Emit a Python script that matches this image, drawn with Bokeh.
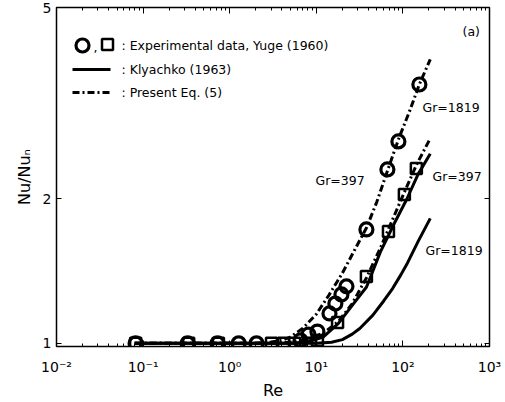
import math
from bokeh.plotting import figure
from bokeh.models import FixedTicker, LogAxis, Label, Range1d
from bokeh.embed import file_html
from bokeh.resources import INLINE

# ---------------- data ----------------
x_ticks = [0.01, 0.1, 1, 10, 100, 1000]
x_tick_labels = ["10⁻²", "10⁻¹", "10⁰", "10¹", "10²", "10³"]
y_ticks = [1, 2, 5]
y_tick_labels = ["1", "2", "5"]

# Experimental data, Yuge (1960)
circ_re = [0.082, 0.327, 0.724, 1.27, 2.04, 6.57, 8.13, 10.3, 14.2, 16.6, 19.5, 22.3, 37.9, 66.2, 88.7, 155]
circ_nu = [1.0, 1.0, 1.0, 1.0, 1.0, 1.014, 1.043, 1.058, 1.154, 1.21, 1.264, 1.314, 1.726, 2.301, 2.632, 3.457]
sq_re = [0.082, 0.336, 0.741, 3.04, 4.19, 5.61, 8.57, 10.3, 17.6, 37.9, 68.1, 104, 143]
sq_nu = [1.0, 1.0, 1.0, 1.0, 1.0, 1.0, 1.0, 1.014, 1.105, 1.377, 1.709, 2.041, 2.312]

# Present Eq. (5)
eq5_1819_re = [0.08, 1, 2, 3, 4, 5, 7, 10, 14, 20, 28, 38, 50, 66, 89, 120, 155, 207]
eq5_1819_nu = [1.0, 1.0, 1.001, 1.006, 1.015, 1.03, 1.075, 1.15, 1.26, 1.40, 1.57, 1.74, 1.97, 2.28, 2.66, 3.05, 3.46, 3.90]
eq5_397_re = [0.08, 1, 3, 5, 8, 12, 18, 26, 38, 55, 70, 100, 143, 207]
eq5_397_nu = [1.0, 1.0, 1.0, 1.005, 1.02, 1.05, 1.11, 1.21, 1.37, 1.58, 1.75, 2.03, 2.35, 2.67]

# Klyachko (1963)
kl_397_re = [0.08, 1, 3, 5, 8, 12, 18, 26, 38, 55, 80, 110, 150, 207]
kl_397_nu = [1.0, 1.0, 1.0, 1.0, 1.007, 1.03, 1.10, 1.20, 1.31, 1.55, 1.78, 1.99, 2.25, 2.48]
kl_1819_re = [0.08, 1, 5, 10, 15, 20, 26, 32, 45, 60, 76, 95, 113, 150, 207]
kl_1819_nu = [1.0, 1.0, 1.0, 1.0, 1.005, 1.018, 1.045, 1.075, 1.145, 1.225, 1.30, 1.39, 1.47, 1.63, 1.82]

# ---------------- layout ----------------
W, H = 505, 402
FL, FR, FT, FB = 56, 489, 7, 346
X0, X1 = 0.01, 1000
Y0, Y1 = 0.985, 5

FONT = "DejaVu Sans"


def at(px, py):
    """frame pixel position -> data coordinates (for annotations only)"""
    fx = (px - FL) / (FR - FL)
    fy = (FB - py) / (FB - FT)
    x = 10 ** (math.log10(X0) + fx * (math.log10(X1) - math.log10(X0)))
    y = 10 ** (math.log10(Y0) + fy * (math.log10(Y1) - math.log10(Y0)))
    return x, y


p = figure(width=W, height=H, x_axis_type="log", y_axis_type="log",
           x_range=Range1d(X0, X1), y_range=Range1d(Y0, Y1),
           output_backend="svg", toolbar_location=None,
           min_border_left=FL, min_border_right=W - FR,
           min_border_top=FT, min_border_bottom=H - FB)
p.background_fill_color = "white"
p.border_fill_color = "white"
p.xgrid.visible = False
p.ygrid.visible = False
p.outline_line_color = "black"
p.outline_line_width = 1.5

minor_x = [k * 10 ** e for e in range(-2, 3) for k in range(2, 10)]
xt = FixedTicker(ticks=x_ticks, minor_ticks=minor_x)
yt = FixedTicker(ticks=y_ticks, minor_ticks=[])

for ax in p.xaxis:
    ax.ticker = xt
    ax.major_label_overrides = dict(zip(x_ticks, x_tick_labels))
    ax.major_tick_in = 6
    ax.major_tick_out = 0
    ax.minor_tick_in = 3
    ax.minor_tick_out = 0
    ax.axis_line_color = "black"
    ax.major_tick_line_color = "black"
    ax.minor_tick_line_color = "black"
    ax.major_label_text_font = FONT
    ax.major_label_text_font_size = "14px"
    ax.major_label_text_color = "black"
    ax.major_label_standoff = 12
    ax.axis_label = "Re"
    ax.axis_label_text_font = FONT
    ax.axis_label_text_font_size = "16px"
    ax.axis_label_text_font_style = "normal"
    ax.axis_label_text_color = "black"
    ax.axis_label_standoff = 3

for ax in p.yaxis:
    ax.ticker = yt
    ax.major_label_overrides = dict(zip(y_ticks, y_tick_labels))
    ax.major_tick_in = 5
    ax.major_tick_out = 0
    ax.minor_tick_in = 0
    ax.minor_tick_out = 0
    ax.axis_line_color = "black"
    ax.major_tick_line_color = "black"
    ax.major_label_text_font = FONT
    ax.major_label_text_font_size = "14px"
    ax.major_label_text_color = "black"
    ax.major_label_standoff = 5
    ax.axis_label = "Nu/Nuₙ"
    ax.axis_label_text_font = FONT
    ax.axis_label_text_font_size = "16px"
    ax.axis_label_text_font_style = "normal"
    ax.axis_label_text_color = "black"
    ax.axis_label_standoff = 6

top = LogAxis(ticker=xt, major_tick_in=6, major_tick_out=0, minor_tick_in=3,
              minor_tick_out=0, major_label_text_font_size="4px",
              major_label_text_alpha=0, major_label_standoff=0)
p.add_layout(top, "above")
right = LogAxis(ticker=yt, major_tick_in=5, major_tick_out=0, minor_tick_in=0,
                minor_tick_out=0, major_label_text_font_size="4px",
                major_label_text_alpha=0, major_label_standoff=0)
p.add_layout(right, "right")

DASHDOT = "7 3 2 3"

# curves
p.line(kl_397_re, kl_397_nu, line_color="black", line_width=3)
p.line(kl_1819_re, kl_1819_nu, line_color="black", line_width=3)
p.line(eq5_397_re, eq5_397_nu, line_color="black", line_width=3, line_dash=DASHDOT)
p.line(eq5_1819_re, eq5_1819_nu, line_color="black", line_width=3, line_dash=DASHDOT)

# data
p.scatter(sq_re, sq_nu, marker="square", size=11, line_width=2.5,
          line_color="black", fill_color="white", fill_alpha=0.0)
p.scatter(circ_re, circ_nu, marker="circle", size=13, line_width=3.2,
          line_color="black", fill_color="white", fill_alpha=0.0)

# legend (drawn by hand, as in the original figure)
cx, cy = at(82, 45)
sx, sy = at(107, 44)
p.scatter([cx], [cy], marker="circle", size=13, line_width=3.2, line_color="black", fill_alpha=0)
p.scatter([sx], [sy], marker="square", size=11, line_width=2.5, line_color="black", fill_alpha=0)
lx0, ly1 = at(72, 69)
lx1, _ = at(110, 69)
p.line([lx0, lx1], [ly1, ly1], line_color="black", line_width=3)
_, ly2 = at(72, 92)
p.line([lx0, lx1], [ly2, ly2], line_color="black", line_width=3, line_dash=DASHDOT)


def text(px, py, s, size="12.5px", align="left"):
    x, y = at(px, py)
    p.add_layout(Label(x=x, y=y, text=s, text_font=FONT, text_font_size=size,
                       text_align=align, text_baseline="middle", text_color="black"))


text(93, 47, ",")
text(121, 45, ": Experimental data, Yuge (1960)")
text(121, 69, ": Klyachko (1963)")
text(121, 92, ": Present Eq. (5)")
text(462, 31, "(a)")
text(422, 107, "Gr=1819")
text(432, 176, "Gr=397")
text(315, 180, "Gr=397")
text(425, 250, "Gr=1819")

open("out.html", "w").write(file_html(p, INLINE))
